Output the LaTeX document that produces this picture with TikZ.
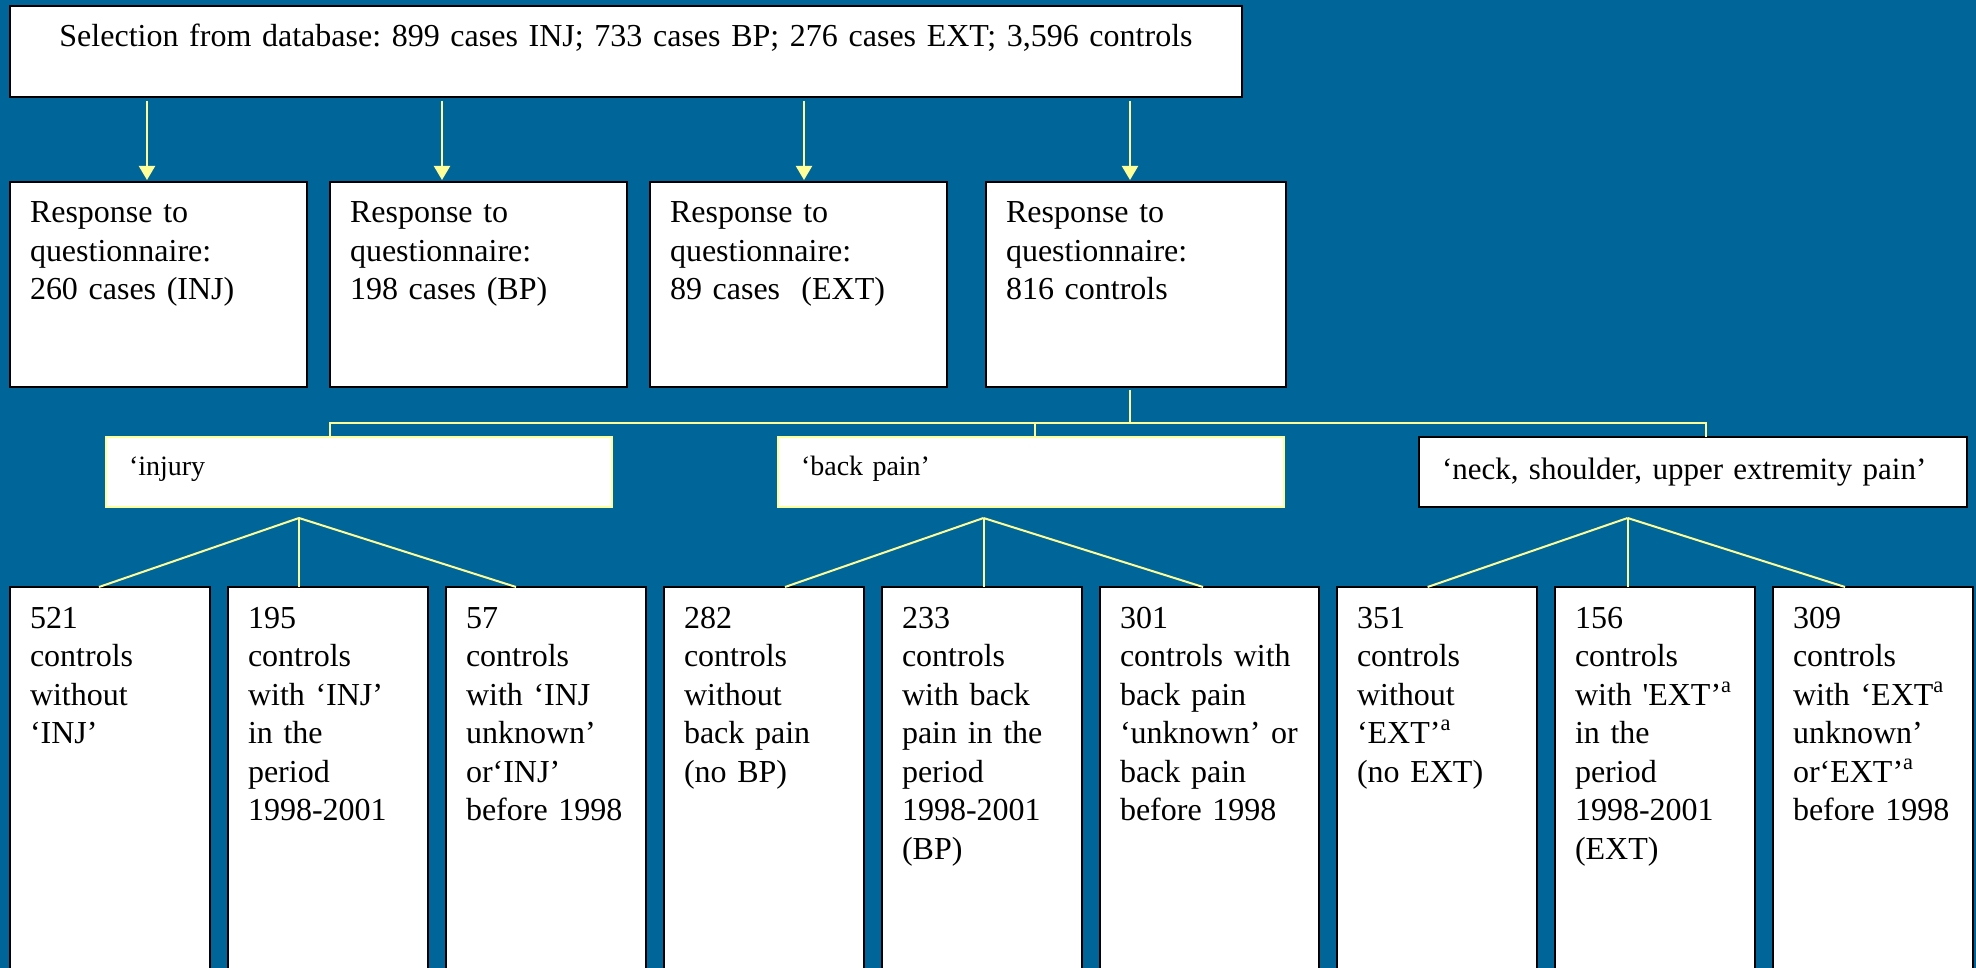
\documentclass[tikz,border=0pt]{standalone}
\usepackage{fontspec}
\setmainfont{Liberation Serif}
\usetikzlibrary{positioning,arrows.meta}

\definecolor{slide}{RGB}{0,102,153}
\definecolor{pale}{RGB}{255,255,153}

\begin{document}
\frenchspacing
\begin{tikzpicture}[
    box/.style={
        draw=black,
        line width=1.2pt,
        fill=white,
        anchor=north west,
        inner xsep=10pt,
        inner ysep=0pt,
        outer sep=0pt,
        align=left,
        text height=20.5pt,
        font=\fontsize{16}{19.25}\selectfont
    },
    sel/.style={box, inner xsep=0pt, align=center, text width=616pt, text depth=25pt},
    resp/.style={box, text width=128.5pt, text depth=82pt},
    topic/.style={box, draw=pale, line width=1pt, inner xsep=11.5pt,
        text width=230pt, text height=19pt, text depth=16pt,
        font=\fontsize{14}{17}\selectfont},
    region/.style={topic, draw=black, line width=1.2pt, text width=251pt,
        text height=21pt, text depth=14pt, font=\fontsize{15.5}{18}\selectfont},
    ctl/.style={box, text width=80pt, text depth=179.5pt},
    arrow/.style={-{Triangle[length=7pt,width=8pt]}, pale, line width=1pt,
        shorten <=2pt, shorten >=1pt},
    link/.style={pale, line width=1pt}
]

\useasboundingbox (0,0) rectangle (988pt,-484pt);
\clip (0,0) rectangle (988pt,-484pt);
\fill[slide] (0,0) rectangle (988pt,-484pt);

% selection
\node[sel] (sel) at (5pt,-3pt)
    {Selection from database: 899 cases INJ; 733 cases BP; 276 cases EXT; 3,596 controls};

% responses
\node[resp] (rinj) at (5pt,-91pt) {Response to\\questionnaire:\\260 cases (INJ)};
\node[resp, right=11.5pt of rinj] (rbp) {Response to\\questionnaire:\\198 cases (BP)};
\node[resp, right=11.5pt of rbp] (rext) {Response to\\questionnaire:\\89 cases~ (EXT)};
\node[resp, text width=130pt, right=19.5pt of rext] (rctl) {Response to\\questionnaire:\\816 controls};

\coordinate (ainj) at ([xshift=-5.75pt]rinj.north);
\coordinate (abp) at ([xshift=-18.25pt]rbp.north);
\coordinate (aext) at ([xshift=2.75pt]rext.north);
\coordinate (actl) at ([xshift=-3pt]rctl.north);
\draw[arrow] (ainj |- sel.south) -- (ainj);
\draw[arrow] (abp |- sel.south) -- (abp);
\draw[arrow] (aext |- sel.south) -- (aext);
\draw[arrow] (actl |- sel.south) -- (actl);

% outcomes for the controls
\node[topic] (injury) at (53pt,-218.5pt) {‘injury};
\node[topic, right=83pt of injury] (backpain) {‘back pain’};
\node[region, right=67.5pt of backpain] (neck) {‘neck, shoulder, upper extremity pain’};

\coordinate (bus) at ([xshift=-3pt,yshift=-18pt]rctl.south);
\coordinate (dinj) at ([xshift=-14.5pt]injury.north);
\coordinate (dbp) at ([xshift=2pt]backpain.north);
\coordinate (dneck) at ([xshift=6.5pt]neck.north);
\draw[link, shorten <=1.5pt] ([xshift=-3pt]rctl.south) -- (bus);
\draw[link] (dinj) |- (bus) -| (dneck);
\draw[link] (dbp) -- (dbp |- bus);

% control groups
\node[ctl] (noinj) at (5pt,-293.5pt) {521\\controls\\without\\‘INJ’};
\node[ctl, right=9pt of noinj] (inj98) {195\\controls\\with ‘INJ’\\in the\\period\\1998-2001};
\node[ctl, right=9pt of inj98] (injunk) {57\\controls\\with ‘INJ\\unknown’\\or‘INJ’\\before 1998};
\node[ctl, right=9pt of injunk] (nobp) {282\\controls\\without\\back pain\\(no BP)};
\node[ctl, right=9pt of nobp] (bp98) {233\\controls\\with back\\pain in the\\period\\1998-2001\\(BP)};
\node[ctl, text width=89.5pt, right=9pt of bp98] (bpunk)
    {301\\controls with\\back pain\\‘unknown’ or\\back pain\\before 1998};
\node[ctl, right=9pt of bpunk] (noext) {351\\controls\\without\\‘EXT’\textsuperscript{a}\\(no EXT)};
\node[ctl, right=9pt of noext] (ext98)
    {156\\controls\\with \textquotesingle EXT’\textsuperscript{a}\\in the\\period\\1998-2001\\(EXT)};
\node[ctl, right=9pt of ext98] (extunk)
    {309\\controls\\with ‘EXT\textsuperscript{a}\\unknown’\\or‘EXT’\textsuperscript{a}\\before 1998};

% fans
\coordinate (finj) at ([xshift=-30pt,yshift=-5.5pt]injury.south);
\coordinate (fbp) at ([xshift=-23.75pt,yshift=-5.5pt]backpain.south);
\coordinate (fneck) at ([xshift=-32.7pt,yshift=-5.5pt]neck.south);

\draw[link] (finj) -- ([xshift=-5.5pt]noinj.north);
\draw[link] (finj) -- (finj |- inj98.north);
\draw[link] (finj) -- ([xshift=-15pt]injunk.north);

\draw[link] (fbp) -- ([xshift=10.5pt]nobp.north);
\draw[link] (fbp) -- (fbp |- bp98.north);
\draw[link] (fbp) -- ([xshift=-3.25pt]bpunk.north);

\draw[link] (fneck) -- ([xshift=-4.7pt]noext.north);
\draw[link] (fneck) -- (fneck |- ext98.north);
\draw[link] (fneck) -- ([xshift=-14pt]extunk.north);

\end{tikzpicture}
\end{document}
